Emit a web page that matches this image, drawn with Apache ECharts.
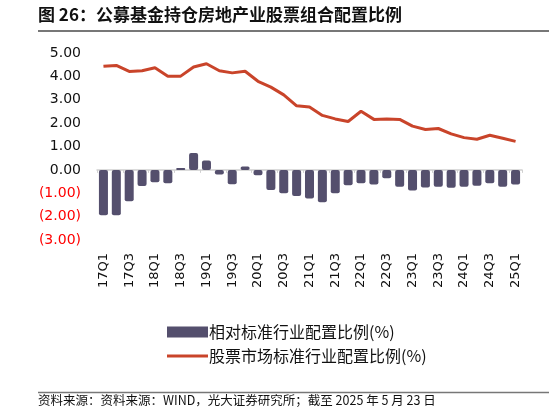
<!DOCTYPE html>
<html><head><meta charset="utf-8">
<script src="https://cdn.jsdelivr.net/npm/echarts@6/dist/echarts.min.js"></script>
<style>html,body{margin:0;padding:0;background:#fff}#c{width:549px;height:414px}</style>
</head><body><div id="c"></div>
<script>
const categories = ['17Q1','17Q2','17Q3','17Q4','18Q1','18Q2','18Q3','18Q4','19Q1','19Q2','19Q3','19Q4','20Q1','20Q2','20Q3','20Q4','21Q1','21Q2','21Q3','21Q4','22Q1','22Q2','22Q3','22Q4','23Q1','23Q2','23Q3','23Q4','24Q1','24Q2','24Q3','24Q4','25Q1'];
const relativeRatio = [-1.94,-1.94,-1.34,-0.69,-0.53,-0.57,0.08,0.72,0.40,-0.20,-0.62,0.14,-0.23,-0.86,-1.00,-1.12,-1.22,-1.39,-1.00,-0.66,-0.57,-0.63,-0.36,-0.72,-0.88,-0.75,-0.72,-0.76,-0.72,-0.68,-0.57,-0.72,-0.63];
const marketRatio = [4.43,4.47,4.21,4.24,4.37,4.01,4.01,4.40,4.54,4.24,4.15,4.22,3.79,3.54,3.21,2.74,2.69,2.33,2.18,2.07,2.51,2.16,2.18,2.16,1.87,1.73,1.77,1.54,1.38,1.31,1.48,1.35,1.22];
const seriesNames = ['相对标准行业配置比例(%)','股票市场标准行业配置比例(%)'];
const titleText = '图 26：公募基金持仓房地产业股票组合配置比例';
const sourceText = '资料来源：资料来源：WIND，光大证券研究所；截至 2025 年 5 月 23 日';

const chart = echarts.init(document.getElementById('c'));
const font = '"Noto Sans CJK SC","DejaVu Sans",sans-serif';
chart.setOption({
  animation:false,
  textStyle:{fontFamily:font},
  graphic:[
    {type:'text',left:38,top:6,style:{text:titleText,font:'bold 17px '+font,fill:'#111'}},
    {type:'line',shape:{x1:38,y1:31,x2:549,y2:31},style:{stroke:'#777',lineWidth:2}},
    {type:'line',shape:{x1:38,y1:392.5,x2:549,y2:392.5},style:{stroke:'#777',lineWidth:1.5}},
    {type:'text',left:38,top:394,style:{text:sourceText,font:'12.5px '+font,fill:'#111'}}
  ],
  grid:{left:97,right:27,top:53,bottom:174,containLabel:false},
  legend:{
    orient:'vertical',left:162,top:319,itemGap:8,itemWidth:41,itemHeight:11,
    textStyle:{fontSize:16,color:'#111',fontFamily:font,padding:[0,0,0,-4]},
    data:[{name:seriesNames[0],icon:'rect'},{name:seriesNames[1],icon:'path://M0,0H41V3H0Z'}]
  },
  xAxis:{
    type:'category',data:categories,
    axisLine:{onZero:true,lineStyle:{color:'#d0d0d0',width:1.5}},
    axisTick:{show:true,length:3,lineStyle:{color:'#d0d0d0'}},
    axisLabel:{interval:1,rotate:90,color:'#111',fontSize:13,fontFamily:'"DejaVu Sans",sans-serif',margin:13},
    position:'bottom'
  },
  yAxis:{
    type:'value',min:-3,max:5,interval:1,
    splitLine:{show:false},axisLine:{show:false},axisTick:{show:false},
    axisLabel:{fontSize:14,fontFamily:'"DejaVu Sans",sans-serif',margin:16,
      formatter:v=> v<0 ? '('+Math.abs(v).toFixed(2)+')' : v.toFixed(2),
      color:v=> v<0 ? '#ff0000' : '#111'}
  },
  series:[
    {name:seriesNames[0],type:'bar',data:relativeRatio,barCategoryGap:'30%',
      itemStyle:{color:'#544f6d',borderRadius:2}},
    {name:seriesNames[1],type:'line',data:marketRatio,symbol:'none',
      lineStyle:{color:'#c9442a',width:3},itemStyle:{color:'#c9442a'}}
  ]
});
</script></body></html>
